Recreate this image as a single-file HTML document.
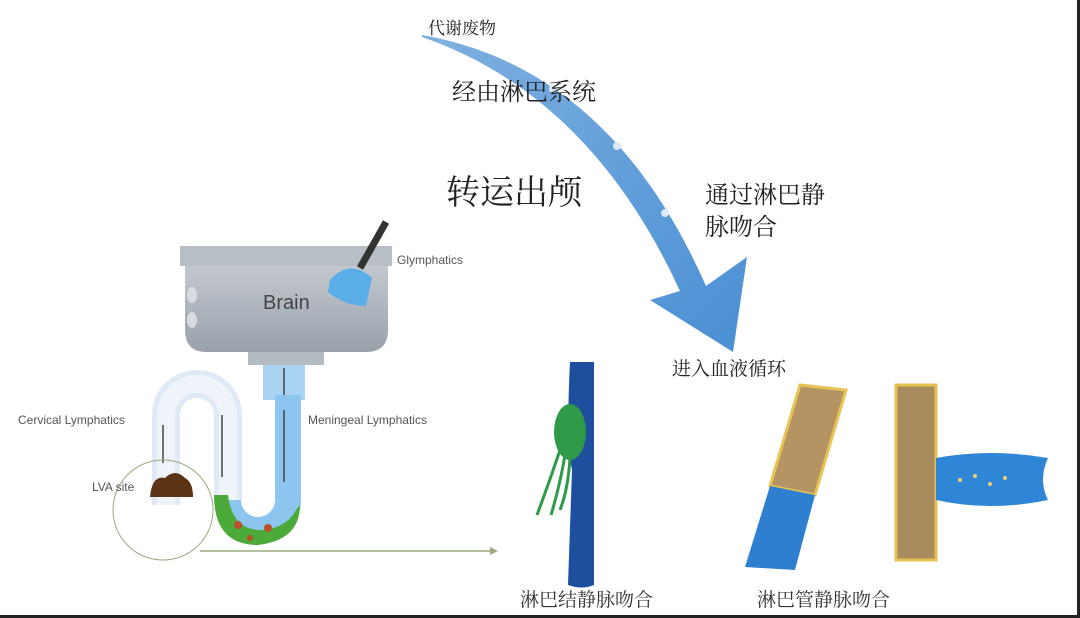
<!DOCTYPE html>
<html><head><meta charset="utf-8"><style>
html,body{margin:0;padding:0;background:#fff;}
#c{position:relative;width:1080px;height:618px;overflow:hidden;background:#fff;font-family:"Liberation Serif","Noto Serif CJK SC",serif;}
.t{position:absolute;color:#222;white-space:nowrap;}
.s{font-family:"Liberation Sans","Noto Sans CJK SC",sans-serif;color:#555;font-size:12px;position:absolute;white-space:nowrap;}
</style></head><body><div id="c">
<svg width="1080" height="618" style="position:absolute;left:0;top:0">
<defs>
<linearGradient id="ar" x1="0" y1="0" x2="1" y2="1"><stop offset="0" stop-color="#7fb0e0"/><stop offset="1" stop-color="#4a8fd4"/></linearGradient>
<linearGradient id="sk" x1="0" y1="0" x2="0" y2="1"><stop offset="0" stop-color="#c3c8cf"/><stop offset="1" stop-color="#9aa1ab"/></linearGradient>
</defs>
<!-- big arrow -->
<path d="M422,35 Q610,68 706,286 L747,257 L733,352 L650,300 L680,291 Q590,95 422,37 Z" fill="url(#ar)"/>
<circle cx="553" cy="89" r="4" fill="#dde9f8"/><circle cx="617" cy="146" r="4" fill="#dde9f8"/><circle cx="665" cy="213" r="4" fill="#dde9f8"/>
<!-- sink -->
<rect x="180" y="246" width="212" height="20" fill="#b8bec6"/>
<path d="M185,266 H388 V330 Q388,352 366,352 H207 Q185,352 185,330 Z" fill="url(#sk)"/>
<ellipse cx="192" cy="295" rx="5" ry="8" fill="#d8dce1"/><ellipse cx="192" cy="320" rx="5" ry="8" fill="#d8dce1"/>
<rect x="248" y="352" width="76" height="13" fill="#b5bbc3"/>
<!-- brush -->
<line x1="386" y1="222" x2="360" y2="268" stroke="#333" stroke-width="7"/>
<path d="M330,280 Q350,258 372,278 L366,306 Q345,306 328,292 Z" fill="#5aaee8"/>
<!-- pipes -->
<rect x="263" y="365" width="42" height="35" fill="#a8d4f2"/>
<path d="M166,505 V415 A31,31 0 0 1 228,415 V500" fill="none" stroke="#dfeaf6" stroke-width="28"/>
<path d="M166,505 V415 A31,31 0 0 1 228,415 V500" fill="none" stroke="#eef4fa" stroke-width="18"/>
<path d="M228,500 A30,30 0 0 0 288,500 V395" fill="none" stroke="#8cc6ee" stroke-width="26"/>
<path d="M214,495 Q214,545 258,545 Q300,540 300,505 L296,510 Q285,530 258,530 Q232,528 228,495 Z" fill="#4caa3a"/>
<circle cx="238" cy="525" r="4" fill="#b9502a"/><circle cx="268" cy="528" r="4" fill="#b9502a"/><circle cx="250" cy="538" r="3" fill="#b9502a"/>
<g stroke="#444" stroke-width="1.5" fill="#444">
<line x1="284" y1="368" x2="284" y2="395"/><line x1="284" y1="410" x2="284" y2="482"/><line x1="222" y1="415" x2="222" y2="477"/><line x1="163" y1="425" x2="163" y2="463"/>
</g>
<path d="M150,497 Q152,475 165,478 Q175,468 185,478 Q193,482 193,497 Z" fill="#5a3414"/>
<circle cx="163" cy="510" r="50" fill="none" stroke="#9aab7e" stroke-width="1"/>
<line x1="200" y1="551" x2="490" y2="551" stroke="#9aab7e" stroke-width="1.5"/>
<path d="M490,547 L498,551 L490,555 Z" fill="#9aab7e"/>
<!-- node vein -->
<path d="M570,362 H594 V585 Q582,590 568,585 L572,470 Q566,440 570,362 Z" fill="#1e4f9e"/>
<ellipse cx="570" cy="432" rx="16" ry="28" fill="#2f9a48"/>
<g stroke="#2f9a48" stroke-width="3" fill="none"><path d="M560,450 Q550,480 537,515"/><path d="M565,455 Q560,485 551,515"/><path d="M570,458 Q568,490 560,510"/></g>
<!-- tubes -->
<path d="M800,385 L846,390 L815,495 L770,486 Z" fill="#b59463" stroke="#e8c455" stroke-width="3"/>
<path d="M770,486 L815,495 L795,570 L745,567 Z" fill="#2e7fd0"/>
<rect x="896" y="385" width="40" height="175" fill="#a98c5d" stroke="#e6c14e" stroke-width="3"/>
<path d="M936,458 Q990,448 1048,458 Q1038,480 1048,500 Q990,512 936,500 Z" fill="#2f86d6"/>
<g fill="#f0d070"><circle cx="960" cy="480" r="2"/><circle cx="975" cy="476" r="2"/><circle cx="990" cy="484" r="2"/><circle cx="1005" cy="478" r="2"/></g>
</svg>
<div class="t" style="left:428px;top:14px;font-size:17px;">代谢废物</div>
<div class="t" style="left:452px;top:72px;font-size:24px;">经由淋巴系统</div>
<div class="t" style="left:446px;top:165px;font-size:34px;">转运出颅</div>
<div class="t" style="left:705px;top:180px;font-size:24px;line-height:32px;">通过淋巴静<br>脉吻合</div>
<div class="t" style="left:672px;top:354px;font-size:19px;">进入血液循环</div>
<div class="t" style="left:520px;top:585px;font-size:19px;color:#333;">淋巴结静脉吻合</div>
<div class="t" style="left:757px;top:585px;font-size:19px;color:#333;">淋巴管静脉吻合</div>
<div class="s" style="left:397px;top:253px;">Glymphatics</div>
<div class="s" style="left:263px;top:292px;font-size:20px;color:#444;">Brain</div>
<div class="s" style="left:18px;top:413px;">Cervical Lymphatics</div>
<div class="s" style="left:308px;top:413px;">Meningeal Lymphatics</div>
<div class="s" style="left:92px;top:480px;">LVA site</div>
<div style="position:absolute;left:0;top:615px;width:1080px;height:3px;background:#222"></div>
<div style="position:absolute;left:1077px;top:0;width:3px;height:618px;background:#222"></div>
</div></body></html>
